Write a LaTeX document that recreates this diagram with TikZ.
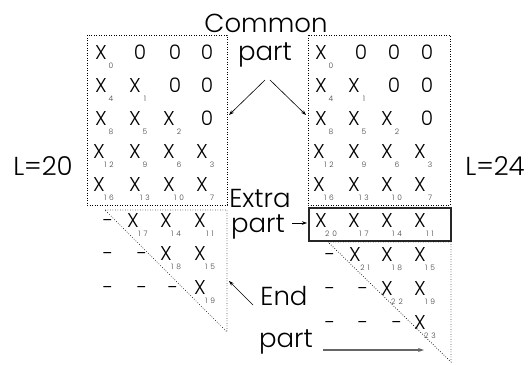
\documentclass[tikz,border=0pt]{standalone}
\usepackage{fontspec}
\setmainfont{Poppins}[UprightFont=* Light]
\usetikzlibrary{arrows.meta}
\newcommand\xsub[4]{%
  \node[ent] (#1) at (#2,#3) {X};
  \node[subl] (#1s) at (#2+10,#3+8.5) {#4};}
\newcommand\tw[2]{#1\hspace{3pt}#2}
\begin{document}
\begin{tikzpicture}[x=1pt,y=-1pt,
  ent/.style={anchor=base,inner sep=0pt,font=\fontsize{20}{20}\selectfont},
  subl/.style={anchor=base,inner sep=0pt,text=black!75,font=\fontsize{7.5}{7.5}\selectfont},
  lbl/.style={anchor=base,inner sep=0pt,font=\fontsize{26}{26}\selectfont},
  dotl/.style={line width=0.7pt,dash pattern=on 0.7pt off 1.8pt},
  arr/.style={line width=0.6pt,-{Stealth[length=5pt,width=3.5pt]}},
  garr/.style={line width=1.1pt,draw=black!60,-{Stealth[length=6pt,width=4pt]}}]
\useasboundingbox (0,0) rectangle (532,364);
% ---------- shapes ----------
\draw[dotl] (87,35) rectangle (227,205);
\draw[dotl] (105,210) -- (227,210) -- (227,332) -- cycle;
\draw[dotl] (308,35) rectangle (450,205);
\draw[line width=1.1pt,draw=black!85] (309,208) rectangle (451,241);
\draw[dotl] (328,242) -- (451,242) -- (451,362) -- cycle;
% ---------- left matrix ----------
\xsub{la1}{101}{59.5}{0}
\node[ent] (la2) at (140,59.5) {0};
\node[ent] (la3) at (175,59.5) {0};
\node[ent] (la4) at (207,59.5) {0};
\xsub{lb1}{101}{92.5}{4}
\xsub{lb2}{135}{92.5}{1}
\node[ent] (lb3) at (175,92.5) {0};
\node[ent] (lb4) at (207,92.5) {0};
\xsub{lc1}{101}{125.5}{8}
\xsub{lc2}{135}{125.5}{5}
\xsub{lc3}{169}{125.5}{2}
\node[ent] (lc4) at (207,125.5) {0};
\xsub{ld1}{99}{158.5}{\tw12}
\xsub{ld2}{135}{158.5}{9}
\xsub{ld3}{169}{158.5}{6}
\xsub{ld4}{202}{158.5}{3}
\xsub{le1}{99}{191.5}{\tw16}
\xsub{le2}{135}{191.5}{\tw13}
\xsub{le3}{169}{191.5}{\tw10}
\xsub{le4}{202}{191.5}{7}
\node[ent] (lf1) at (108,227.5) {-};
\xsub{lf2}{133}{227.5}{\tw17}
\xsub{lf3}{166}{227.5}{\tw14}
\xsub{lf4}{200}{227.5}{\tw11}
\node[ent] (lg1) at (108,260.5) {-};
\node[ent] (lg2) at (142,260.5) {-};
\xsub{lg3}{166}{260.5}{\tw18}
\xsub{lg4}{200}{260.5}{\tw15}
\node[ent] (lh1) at (108,294.5) {-};
\node[ent] (lh2) at (142,294.5) {-};
\node[ent] (lh3) at (173,294.5) {-};
\xsub{lh4}{200}{294.5}{\tw19}
% ---------- right matrix ----------
\xsub{ra1}{321}{59.5}{0}
\node[ent] (ra2) at (361,59.5) {0};
\node[ent] (ra3) at (394,59.5) {0};
\node[ent] (ra4) at (427,59.5) {0};
\xsub{rb1}{321}{92.5}{4}
\xsub{rb2}{354}{92.5}{1}
\node[ent] (rb3) at (394,92.5) {0};
\node[ent] (rb4) at (427,92.5) {0};
\xsub{rc1}{321}{125.5}{8}
\xsub{rc2}{354}{125.5}{5}
\xsub{rc3}{387}{125.5}{2}
\node[ent] (rc4) at (427,125.5) {0};
\xsub{rd1}{319}{158.5}{\tw12}
\xsub{rd2}{354}{158.5}{9}
\xsub{rd3}{387}{158.5}{6}
\xsub{rd4}{420}{158.5}{3}
\xsub{re1}{319}{191.5}{\tw16}
\xsub{re2}{354}{191.5}{\tw13}
\xsub{re3}{387}{191.5}{\tw10}
\xsub{re4}{420}{191.5}{7}
\xsub{rf1}{321}{227.5}{\tw20}
\xsub{rf2}{354}{227.5}{\tw17}
\xsub{rf3}{387}{227.5}{\tw14}
\xsub{rf4}{420}{227.5}{\tw11}
\node[ent] (rg1) at (330,261.5) {-};
\xsub{rg2}{355}{261.5}{\tw21}
\xsub{rg3}{387}{261.5}{\tw18}
\xsub{rg4}{420}{261.5}{\tw15}
\node[ent] (rh1) at (330,295.5) {-};
\node[ent] (rh2) at (363,295.5) {-};
\xsub{rh3}{387}{295.5}{\tw22}
\xsub{rh4}{420}{295.5}{\tw19}
\node[ent] (ri1) at (330,329.5) {-};
\node[ent] (ri2) at (363,329.5) {-};
\node[ent] (ri3) at (397,329.5) {-};
\xsub{ri4}{420}{329.5}{\tw23}
% ---------- labels ----------
\node[lbl] (common) at (266,32) {Common};
\node[lbl] (cpart) at (265,60) {part};
\node[lbl] (l20) at (43,175) {L=20};
\node[lbl] (l24) at (495,175) {L=24};
\node[lbl] (extra) at (260,207) {Extra};
\node[lbl] (epart) at (258,232) {part};
\node[lbl] (endl) at (284,305) {End};
\node[lbl] (bpart) at (286,347) {part};
% ---------- arrows ----------
\coordinate (cpa) at (265,80);
\coordinate (cpb) at (270,80);
\coordinate (lboxe) at (229,115);
\coordinate (rboxe) at (306,115);
\coordinate (exa) at (292,223);
\coordinate (exb) at (307,223);
\coordinate (ena) at (253,305);
\coordinate (enb) at (229,281);
\coordinate (bpa) at (323,350);
\coordinate (bpb) at (424,350);
\draw[arr] (cpa) -- (lboxe);
\draw[arr] (cpb) -- (rboxe);
\draw[arr] (exa) -- (exb);
\draw[arr] (ena) -- (enb);
\draw[garr] (bpa) -- (bpb);
\end{tikzpicture}
\end{document}
